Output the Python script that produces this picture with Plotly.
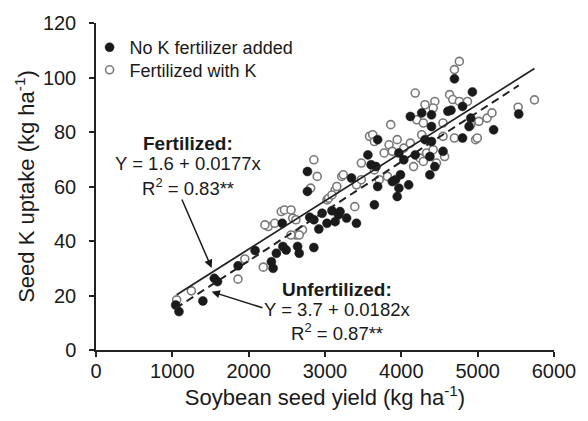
import numpy as np
import plotly.graph_objects as go

# Soybean seed yield (kg/ha) and seed K uptake (kg/ha) per plot
nok_yield = [1044, 1087, 1400, 1550, 1592, 1862, 2084, 2298, 2320, 2363,
             2449, 2491, 2440, 2641, 2662, 2854, 2919, 2800, 2854, 2962,
             3026, 3091, 3133, 3176, 3283, 3412, 3197, 2770, 2770, 3347,
             3562, 3604, 3669, 3690, 3647, 3690, 3882, 3925, 3989,
             3968, 4096, 3946, 4374, 3968, 4032, 4182, 4374, 4546, 4439,
             4310, 4395, 4802, 4118, 4267, 4395, 4395, 4610, 4650, 4802,
             4696, 4931, 4909, 4888, 5209, 5538]
nok_uptake = [16.5, 14.1, 18.0, 26.3, 25.1, 30.9, 36.5, 32.4, 30.0, 35.5,
              38.0, 36.7, 46.5, 38.0, 35.5, 37.6, 44.4, 48.7, 47.8, 50.2,
              46.5, 51.1, 47.1, 49.6, 48.4, 46.5, 50.8, 65.5, 58.2, 63.1,
              71.6, 68.0, 67.3, 60.0, 53.3, 77.2, 61.8, 62.5, 64.3,
              59.4, 60.6, 56.3, 64.3, 72.3, 69.8, 71.6, 71.0, 72.9, 67.3,
              77.2, 76.5, 77.8, 85.7, 87.0, 86.3, 82.0, 87.6, 88.0, 89.4,
              99.5, 94.7, 85.1, 82.0, 80.8, 86.6]

fk_yield = [1057, 1249, 1860, 1950, 2192, 2256, 2341, 2213, 2427, 2469,
            2619, 2705, 2555, 2662, 2577, 2619, 2555, 2854, 2898, 2812,
            3026, 3219, 3133, 3047, 3091, 3155, 3240, 3390, 3412, 3476,
            3476, 3647, 3711, 3583, 3625, 3647, 3775, 3861, 3818, 4760,
            4696, 4182, 4632, 4674, 4760, 4866, 4310, 4439, 4417, 4203,
            4289, 4546, 4696, 4973, 4267, 4546, 3946, 3839, 3882, 4032,
            4118, 4246, 4160, 4331, 4417, 4567, 4460, 4289, 5016, 5123,
            5187, 4995, 4909, 5530, 5744]
fk_uptake = [18.4, 21.7, 26.0, 33.4, 30.4, 45.3, 46.5, 45.9, 50.8, 51.4,
             42.2, 44.1, 42.2, 42.2, 48.4, 47.8, 51.4, 69.8, 63.7, 59.4,
             55.1, 63.7, 58.8, 55.7, 56.9, 60.0, 64.3, 52.6, 60.6, 62.5,
             68.6, 66.1, 62.5, 78.4, 79.0, 76.5, 72.3, 82.7, 63.7, 105.9,
             102.9, 94.3, 93.7, 91.9, 91.2, 91.2, 90.0, 91.2, 88.8, 84.5,
             83.3, 83.3, 77.8, 77.2, 79.0, 78.4, 77.2, 75.3, 72.9, 74.1,
             75.9, 70.4, 67.3, 72.3, 73.5, 71.0, 68.6, 69.2, 83.9, 85.1,
             87.0, 77.8, 82.7, 89.1, 91.8]

# Regression lines (intercept, slope)
fert_fit = (1.6, 0.0177)
unfert_fit = (-3.7, 0.0182)

x_ticks = [0, 1000, 2000, 3000, 4000, 5000, 6000]
y_ticks = [0, 20, 40, 60, 80, 100, 120]

FONT = "Liberation Sans, Arial, sans-serif"
INK = "#1a1a1a"


def fit_line(xs, coef):
    xr = np.array([min(xs), max(xs)], dtype=float)
    return xr, coef[0] + coef[1] * xr


fig = go.Figure()

fig.add_trace(go.Scatter(
    x=fk_yield, y=fk_uptake, mode="markers", name="Fertilized with K",
    legend="legend2",
    marker=dict(symbol="circle", size=8, color="white",
                line=dict(color="#7a7a7a", width=1.6)),
))
fig.add_trace(go.Scatter(
    x=nok_yield, y=nok_uptake, mode="markers", name="No K fertilizer added",
    legend="legend",
    marker=dict(symbol="circle", size=9, color=INK,
                line=dict(color=INK, width=0.5)),
))

fx, fy = fit_line(fk_yield, fert_fit)
fig.add_trace(go.Scatter(x=fx, y=fy, mode="lines", showlegend=False,
                         hoverinfo="skip",
                         line=dict(color="#222", width=1.8)))
ux, uy = fit_line(nok_yield, unfert_fit)
fig.add_trace(go.Scatter(x=ux, y=uy, mode="lines", showlegend=False,
                         hoverinfo="skip",
                         line=dict(color="#222", width=2, dash="8px,5px")))

notes = [
    (1210, 75.8, "<b>Fertilized:</b>", 19),
    (1210, 68.5, "Y = 1.6 + 0.0177x", 18.5),
    (1210, 59.9, "R<sup>2</sup> = 0.83**", 18.5),
    (3161, 22.2, "<b>Unfertilized:</b>", 19),
    (3161, 15.0, "Y = 3.7 + 0.0182x", 18.5),
    (3161, 6.6, "R<sup>2</sup> = 0.87**", 18.5),
]
for nx, ny, t, fs in notes:
    fig.add_annotation(x=nx, y=ny, xref="x", yref="y", text=t,
                       showarrow=False,
                       font=dict(family=FONT, size=fs, color=INK),
                       xanchor="center", yanchor="middle")

# Pointer arrows from the equations to their lines
arrows = [((1515, 30.1), (1117, 55.8)), ((1515, 21.4), (2200, 15.3))]
for (hx, hy), (tx, ty) in arrows:
    fig.add_annotation(x=hx, y=hy, ax=tx, ay=ty, xref="x", yref="y",
                       axref="x", ayref="y", text="", showarrow=True,
                       arrowhead=2, arrowsize=1.1, arrowwidth=1.5,
                       arrowcolor=INK, standoff=0)

axis_common = dict(
    showline=True, linecolor="#222", linewidth=1.5,
    ticks="outside", ticklen=5, tickwidth=1.5, tickcolor="#222",
    showgrid=False, zeroline=False,
    tickfont=dict(family=FONT, size=20, color=INK),
)

legend_common = dict(x=-0.014, xanchor="left", yanchor="middle",
                     bgcolor="rgba(0,0,0,0)", borderwidth=0,
                     font=dict(family=FONT, size=18, color=INK),
                     itemwidth=30)

fig.update_layout(
    width=588, height=421,
    margin=dict(l=96, r=25, t=23, b=71),
    paper_bgcolor="white", plot_bgcolor="white",
    font=dict(family=FONT, size=18, color=INK),
    showlegend=True,
    legend=dict(y=0.925, **legend_common),
    legend2=dict(y=0.856, **legend_common),
    xaxis=dict(range=[0, 6000], tickvals=x_ticks,
               ticktext=[str(v) for v in x_ticks],
               ticklabelstandoff=-3,
               title=dict(text="Soybean seed yield (kg ha<sup>-1</sup>)",
                          font=dict(family=FONT, size=22, color=INK),
                          standoff=0),
               **axis_common),
    yaxis=dict(range=[0, 120], tickvals=y_ticks,
               ticktext=[str(v) for v in y_ticks],
               ticklabelstandoff=9,
               title=dict(text="Seed K uptake (kg ha<sup>-1</sup>)",
                          font=dict(family=FONT, size=22, color=INK),
                          standoff=2),
               **axis_common),
)

fig.write_html("out.html")
